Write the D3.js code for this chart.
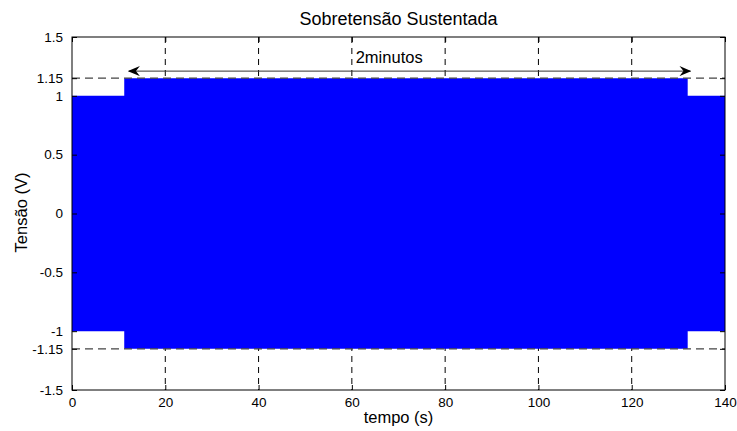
<!DOCTYPE html>
<html>
<head>
<meta charset="utf-8">
<script src="https://cdn.jsdelivr.net/npm/d3@7"></script>
<style>
  body { margin: 0; background: #fff; }
  text { font-family: "Liberation Sans", Arial, sans-serif; fill: #000; }
</style>
</head>
<body>
<script>
// envelope of the 60 Hz voltage: segment start time (s) and peak amplitude (V)
const segStart = [0, 11.2, 132];
const segAmp = [1, 1.15, 1];
const tEnd = 140;

const xTicks = [0, 20, 40, 60, 80, 100, 120, 140];
const yTicks = [-1.5, -1.15, -1, -0.5, 0, 0.5, 1, 1.15, 1.5];
const refLevels = [1.15, -1.15];

// "2minutos" annotation: arrow from/to (s) at a level (V)
const arrowT = [12.2, 132.6];
const arrowV = 1.21;

const W = 737, H = 431;
const margin = {top: 37, right: 12, bottom: 41, left: 72};
const width = W - margin.left - margin.right,
      height = H - margin.top - margin.bottom;

const svg = d3.select("body").append("svg")
  .attr("width", W).attr("height", H);

const defs = svg.append("defs");
["start", "end"].forEach(k => {
  defs.append("marker")
    .attr("id", "arr-" + k)
    .attr("viewBox", "0 0 12 10")
    .attr("refX", k === "end" ? 11 : 1).attr("refY", 5)
    .attr("markerWidth", 12).attr("markerHeight", 10)
    .attr("markerUnits", "userSpaceOnUse")
    .attr("orient", "auto")
    .append("path")
    .attr("d", k === "end" ? "M0,0 L12,5 L0,10 L4,5 Z" : "M12,0 L0,5 L12,10 L8,5 Z")
    .attr("fill", "#000");
});

const g = svg.append("g").attr("transform", `translate(${margin.left},${margin.top})`);

const x = d3.scaleLinear().domain([0, 140]).range([0, width]);
const y = d3.scaleLinear().domain([-1.5, 1.5]).range([height, 0]);

// grid (under the signal)
g.append("g").selectAll("line")
  .data(xTicks.slice(1, -1))
  .join("line")
  .attr("x1", d => x(d)).attr("x2", d => x(d))
  .attr("y1", 0).attr("y2", height)
  .attr("stroke", "#000").attr("stroke-width", 1)
  .attr("stroke-dasharray", "6,5");

// signal envelope
const env = segStart.map((t, i) => ({t, a: segAmp[i]}));
env.push({t: tEnd, a: segAmp[segAmp.length - 1]});

g.append("path")
  .datum(env)
  .attr("fill", "#0000ff")
  .attr("d", d3.area()
    .curve(d3.curveStepAfter)
    .x(d => x(d.t))
    .y0(d => y(-d.a))
    .y1(d => y(d.a)));

// reference levels
g.append("g").selectAll("line")
  .data(refLevels)
  .join("line")
  .attr("x1", 0).attr("x2", width)
  .attr("y1", d => y(d)).attr("y2", d => y(d))
  .attr("stroke", "#444").attr("stroke-width", 1.3)
  .attr("stroke-dasharray", "8,5");

// box
g.append("rect")
  .attr("width", width).attr("height", height)
  .attr("fill", "none").attr("stroke", "#000").attr("stroke-width", 1);

// axes with inward ticks
const fmt = d => d3.format("")(d).replace("−", "-");
g.append("g").attr("transform", `translate(0,${height})`)
  .call(d3.axisBottom(x).tickValues(xTicks).tickSizeInner(-5).tickSizeOuter(0).tickPadding(7).tickFormat(fmt));
g.append("g")
  .call(d3.axisTop(x).tickValues(xTicks).tickSizeInner(-5).tickSizeOuter(0).tickFormat(""));
g.append("g")
  .call(d3.axisLeft(y).tickValues(yTicks).tickSizeInner(-5).tickSizeOuter(0).tickPadding(9).tickFormat(fmt));
g.append("g").attr("transform", `translate(${width},0)`)
  .call(d3.axisRight(y).tickValues(yTicks).tickSizeInner(-5).tickSizeOuter(0).tickFormat(""));

g.selectAll(".domain").remove();
g.selectAll(".tick line").attr("stroke", "#000");
g.selectAll(".tick text").style("font-size", "13.5px").attr("fill", "#000")
  .style("font-family", '"Liberation Sans", Arial, sans-serif');

// annotation arrow
g.append("line")
  .attr("x1", x(arrowT[0])).attr("x2", x(arrowT[1]))
  .attr("y1", y(arrowV)).attr("y2", y(arrowV))
  .attr("stroke", "#333").attr("stroke-width", 1)
  .attr("marker-start", "url(#arr-start)")
  .attr("marker-end", "url(#arr-end)");

g.append("text")
  .attr("x", x(68)).attr("y", y(1.33))
  .attr("text-anchor", "middle")
  .attr("dy", "0.35em")
  .style("font-size", "16.5px")
  .text("2minutos");

// titles
svg.append("text")
  .attr("x", margin.left + width / 2).attr("y", 25)
  .attr("text-anchor", "middle")
  .style("font-size", "18px")
  .text("Sobretensão Sustentada");

svg.append("text")
  .attr("x", margin.left + width / 2).attr("y", 423)
  .attr("text-anchor", "middle")
  .style("font-size", "16.5px")
  .text("tempo (s)");

svg.append("text")
  .attr("transform", `translate(27,${margin.top + height / 2 - 1}) rotate(-90)`)
  .attr("text-anchor", "middle")
  .style("font-size", "16.5px")
  .text("Tensão (V)");
</script>
</body>
</html>
